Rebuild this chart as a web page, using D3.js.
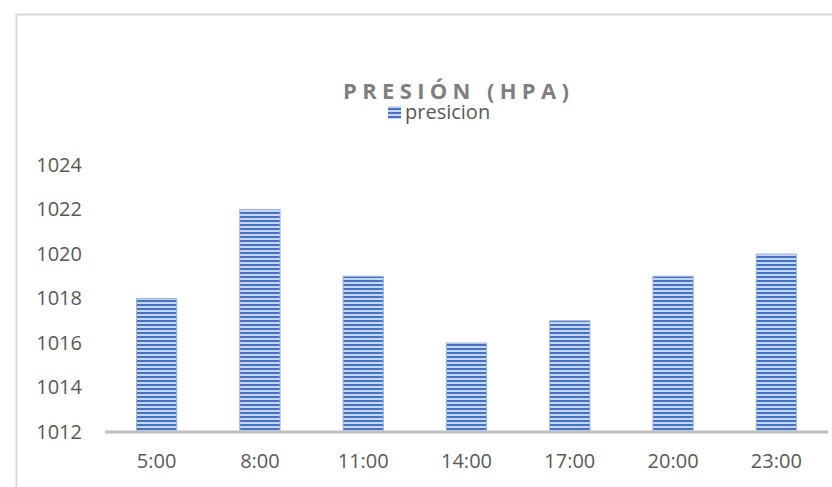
<!DOCTYPE html>
<html><head><meta charset="utf-8">
<script src="https://cdn.jsdelivr.net/npm/d3@7"></script>
<style>body{margin:0;background:#fff}svg{display:block}text{font-family:"Open Sans",sans-serif}</style>
</head><body><div id="c"></div>
<script>
const categories = ["5:00","8:00","11:00","14:00","17:00","20:00","23:00"];
const values = [1018,1022,1019,1016,1017,1019,1020];
const yTicks = [1012,1014,1016,1018,1020,1022,1024];
const title = "PRESIÓN (HPA)";
const seriesName = "presicion";

const W=832,H=487;
const FONT='"Open Sans",sans-serif';
const svg=d3.select("#c").append("svg").attr("width",W).attr("height",H);
const defs=svg.append("defs");
const pat=defs.append("pattern").attr("id","stripe").attr("patternUnits","userSpaceOnUse").attr("width",8).attr("height",4);
pat.append("rect").attr("width",8).attr("height",4).attr("fill","#c9d6ef");
pat.append("rect").attr("y",0).attr("width",8).attr("height",2).attr("fill","#4472c4");

// chart border
svg.append("path").attr("d","M16.5,487 L16.5,14.5 L832,14.5").attr("fill","none").attr("stroke","#d9d9d9").attr("stroke-width",2);

const x=d3.scaleBand().domain(categories).range([105,828]).paddingInner(0.61).paddingOuter(0.305);
const y=d3.scaleLinear().domain([1012,1024]).range([432,165]);

svg.append("g").selectAll("rect").data(values).join("rect")
 .attr("x",(d,i)=>x(categories[i])).attr("width",x.bandwidth())
 .attr("y",d=>y(d)).attr("height",d=>y(1012)-y(d))
 .attr("fill","url(#stripe)").attr("stroke","#9db4e0").attr("stroke-width",1);

// y axis labels
const ya=svg.append("g").attr("transform","translate(82,0)").call(d3.axisLeft(y).tickValues(yTicks).tickSize(0).tickPadding(0).tickFormat(d3.format("d")));
ya.select(".domain").remove();
ya.selectAll("text").attr("font-size",20).attr("fill","#595959").attr("font-family",FONT);

// x axis
const xa=svg.append("g").attr("transform","translate(0,432)").call(d3.axisBottom(x).tickSize(0).tickPadding(22));
xa.select(".domain").attr("stroke","#bfbfbf").attr("stroke-width",3).attr("d","M105,0H828");
xa.selectAll("text").attr("font-size",20).attr("fill","#595959").attr("font-family",FONT);

// title
svg.append("text").attr("x",458).attr("y",99).attr("text-anchor","middle")
 .attr("font-size",22).attr("font-weight","bold").attr("letter-spacing","4px").attr("fill","#7f7f7f")
 .attr("textLength",230).attr("lengthAdjust","spacing").text(title);

// legend
svg.append("rect").attr("x",388).attr("y",106).attr("width",13).attr("height",13).attr("fill","url(#stripe)");
svg.append("text").attr("x",405).attr("y",119).attr("font-size",20).attr("fill","#595959").text(seriesName);
</script></body></html>
